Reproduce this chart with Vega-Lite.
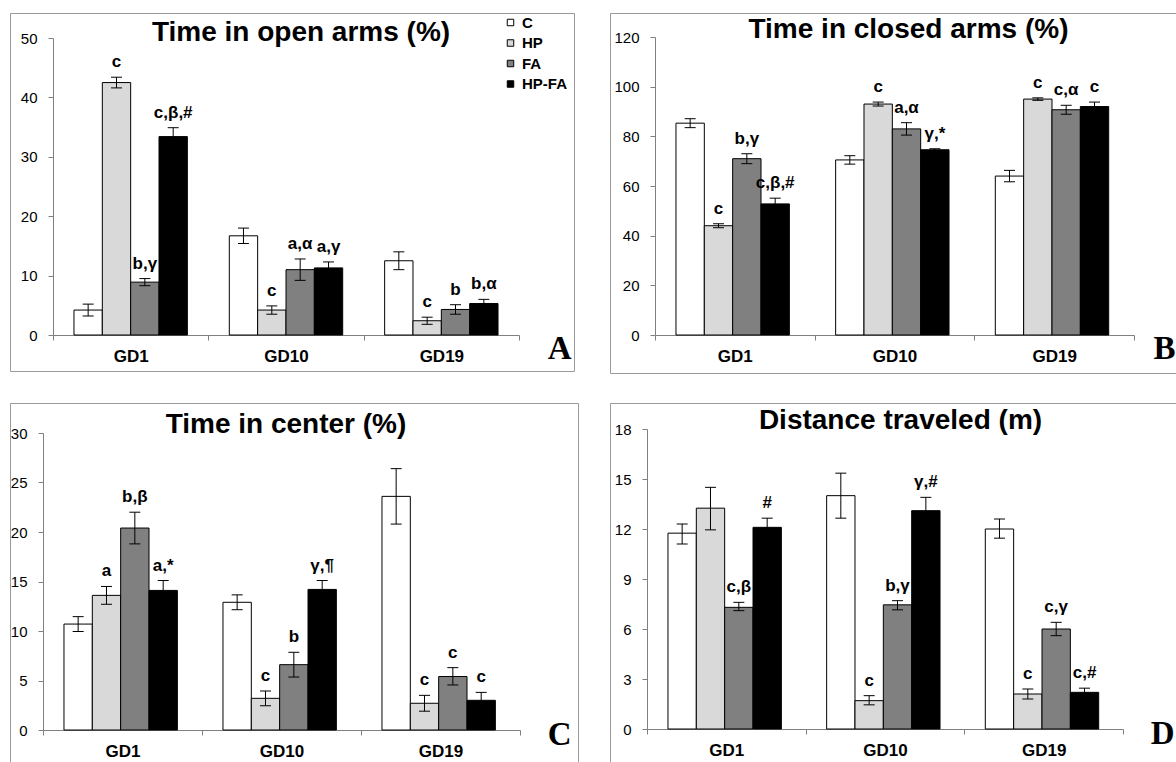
{
  "$schema": "https://vega.github.io/schema/vega-lite/v6.json",
  "padding": {"left": 9, "top": 12, "right": 0, "bottom": 0},
  "background": "white",
  "datasets": {
    "A": [
      {"group": "GD1", "trt": "C", "mean": 4.2, "lo": 3.2, "hi": 5.2, "label": ""},
      {"group": "GD1", "trt": "HP", "mean": 42.5, "lo": 41.6, "hi": 43.4, "label": "c"},
      {"group": "GD1", "trt": "FA", "mean": 8.9, "lo": 8.3, "hi": 9.5, "label": "b,γ"},
      {"group": "GD1", "trt": "HP-FA", "mean": 33.4, "lo": 31.9, "hi": 34.9, "label": "c,β,#"},
      {"group": "GD10", "trt": "C", "mean": 16.7, "lo": 15.4, "hi": 18.0, "label": ""},
      {"group": "GD10", "trt": "HP", "mean": 4.2, "lo": 3.5, "hi": 4.9, "label": "c"},
      {"group": "GD10", "trt": "FA", "mean": 11.0, "lo": 9.2, "hi": 12.8, "label": "a,α"},
      {"group": "GD10", "trt": "HP-FA", "mean": 11.3, "lo": 10.3, "hi": 12.3, "label": "a,γ"},
      {"group": "GD19", "trt": "C", "mean": 12.5, "lo": 11.0, "hi": 14.0, "label": ""},
      {"group": "GD19", "trt": "HP", "mean": 2.4, "lo": 1.8, "hi": 3.0, "label": "c"},
      {"group": "GD19", "trt": "FA", "mean": 4.3, "lo": 3.5, "hi": 5.1, "label": "b"},
      {"group": "GD19", "trt": "HP-FA", "mean": 5.3, "lo": 4.6, "hi": 6.0, "label": "b,α"}
    ],
    "B": [
      {"group": "GD1", "trt": "C", "mean": 85.3, "lo": 83.5, "hi": 87.1, "label": ""},
      {"group": "GD1", "trt": "HP", "mean": 44.0, "lo": 43.2, "hi": 44.8, "label": "c"},
      {"group": "GD1", "trt": "FA", "mean": 71.0, "lo": 69.0, "hi": 73.0, "label": "b,γ"},
      {"group": "GD1", "trt": "HP-FA", "mean": 52.8, "lo": 50.5, "hi": 55.1, "label": "c,β,#"},
      {"group": "GD10", "trt": "C", "mean": 70.5, "lo": 68.8, "hi": 72.2, "label": ""},
      {"group": "GD10", "trt": "HP", "mean": 93.0, "lo": 92.2, "hi": 93.8, "label": "c"},
      {"group": "GD10", "trt": "FA", "mean": 83.0, "lo": 80.5, "hi": 85.5, "label": "a,α"},
      {"group": "GD10", "trt": "HP-FA", "mean": 74.6, "lo": 74.2, "hi": 75.0, "label": "γ,*"},
      {"group": "GD19", "trt": "C", "mean": 64.0, "lo": 61.7, "hi": 66.3, "label": ""},
      {"group": "GD19", "trt": "HP", "mean": 95.0, "lo": 94.5, "hi": 95.5, "label": "c"},
      {"group": "GD19", "trt": "FA", "mean": 90.7, "lo": 88.9, "hi": 92.5, "label": "c,α"},
      {"group": "GD19", "trt": "HP-FA", "mean": 92.0, "lo": 90.2, "hi": 93.8, "label": "c"}
    ],
    "C": [
      {"group": "GD1", "trt": "C", "mean": 10.7, "lo": 9.95, "hi": 11.45, "label": ""},
      {"group": "GD1", "trt": "HP", "mean": 13.6, "lo": 12.7, "hi": 14.5, "label": "a"},
      {"group": "GD1", "trt": "FA", "mean": 20.4, "lo": 18.8, "hi": 22.0, "label": "b,β"},
      {"group": "GD1", "trt": "HP-FA", "mean": 14.1, "lo": 13.1, "hi": 15.1, "label": "a,*"},
      {"group": "GD10", "trt": "C", "mean": 12.9, "lo": 12.15, "hi": 13.65, "label": ""},
      {"group": "GD10", "trt": "HP", "mean": 3.2, "lo": 2.45, "hi": 3.95, "label": "c"},
      {"group": "GD10", "trt": "FA", "mean": 6.6, "lo": 5.35, "hi": 7.85, "label": "b"},
      {"group": "GD10", "trt": "HP-FA", "mean": 14.2, "lo": 13.3, "hi": 15.1, "label": "γ,¶"},
      {"group": "GD19", "trt": "C", "mean": 23.6, "lo": 20.8, "hi": 26.4, "label": ""},
      {"group": "GD19", "trt": "HP", "mean": 2.7, "lo": 1.9, "hi": 3.5, "label": "c"},
      {"group": "GD19", "trt": "FA", "mean": 5.4, "lo": 4.55, "hi": 6.3, "label": "c"},
      {"group": "GD19", "trt": "HP-FA", "mean": 3.0, "lo": 2.2, "hi": 3.8, "label": "c"}
    ],
    "D": [
      {"group": "GD1", "trt": "C", "mean": 11.75, "lo": 11.1, "hi": 12.3, "label": ""},
      {"group": "GD1", "trt": "HP", "mean": 13.25, "lo": 11.95, "hi": 14.5, "label": ""},
      {"group": "GD1", "trt": "FA", "mean": 7.3, "lo": 7.1, "hi": 7.6, "label": "c,β"},
      {"group": "GD1", "trt": "HP-FA", "mean": 12.1, "lo": 11.6, "hi": 12.65, "label": "#"},
      {"group": "GD10", "trt": "C", "mean": 14.0, "lo": 12.65, "hi": 15.35, "label": ""},
      {"group": "GD10", "trt": "HP", "mean": 1.7, "lo": 1.45, "hi": 2.0, "label": "c"},
      {"group": "GD10", "trt": "FA", "mean": 7.45, "lo": 7.15, "hi": 7.7, "label": "b,γ"},
      {"group": "GD10", "trt": "HP-FA", "mean": 13.1, "lo": 12.3, "hi": 13.9, "label": "γ,#"},
      {"group": "GD19", "trt": "C", "mean": 12.0, "lo": 11.45, "hi": 12.6, "label": ""},
      {"group": "GD19", "trt": "HP", "mean": 2.1, "lo": 1.8, "hi": 2.4, "label": "c"},
      {"group": "GD19", "trt": "FA", "mean": 6.0, "lo": 5.6, "hi": 6.4, "label": "c,γ"},
      {"group": "GD19", "trt": "HP-FA", "mean": 2.2, "lo": 1.9, "hi": 2.45, "label": "c,#"}
    ]
  },
  "spacing": 28,
  "vconcat": [
    {
      "spacing": 34,
      "hconcat": [
        {
          "width": 564, "height": 358,
          "data": {"name": "A"},
          "title": {"text": "Time in open arms (%)", "offset": -34, "dx": 9},
          "encoding": {
            "x": {"field": "group", "type": "nominal", "sort": ["GD1", "GD10", "GD19"],
              "scale": {"range": [43, 509], "paddingInner": 0, "paddingOuter": 0},
              "axis": {"offset": -36, "title": "A", "titleX": 561, "titleY": 23}},
            "xOffset": {"field": "trt", "type": "nominal", "sort": ["C", "HP", "FA", "HP-FA"],
              "scale": {"paddingInner": 0, "paddingOuter": 0.74}}
          },
          "layer": [
            {"mark": {"type": "bar", "stroke": "black", "strokeWidth": 1},
              "encoding": {
                "y": {"field": "mean", "type": "quantitative", "title": null,
                  "scale": {"domain": [0, 50], "range": [322, 25], "nice": false},
                  "axis": {"values": [0, 10, 20, 30, 40, 50], "offset": -43}},
                "color": {"field": "trt", "type": "nominal", "sort": ["C", "HP", "FA", "HP-FA"],
                  "scale": {"domain": ["C", "HP", "FA", "HP-FA"], "range": ["#ffffff", "#d9d9d9", "#808080", "#000000"]},
                  "legend": {"legendX": 493, "legendY": 2, "symbolStrokeColor": "black", "symbolStrokeWidth": 1}}}},
            {"mark": {"type": "rule", "color": "black"},
              "encoding": {"y": {"field": "lo", "type": "quantitative", "title": null}, "y2": {"field": "hi"}}},
            {"mark": {"type": "tick", "color": "black", "size": 11, "thickness": 1, "opacity": 1},
              "encoding": {"y": {"field": "lo", "type": "quantitative", "title": null}}},
            {"mark": {"type": "tick", "color": "black", "size": 11, "thickness": 1, "opacity": 1},
              "encoding": {"y": {"field": "hi", "type": "quantitative", "title": null}}},
            {"mark": {"type": "text", "dy": -10, "baseline": "alphabetic", "fontSize": 17, "fontWeight": "bold", "color": "black"},
              "encoding": {"y": {"field": "hi", "type": "quantitative", "title": null}, "text": {"field": "label"}}}
          ]
        },
        {
          "width": 575, "height": 360,
          "data": {"name": "B"},
          "title": {"text": "Time in closed arms (%)", "offset": -31, "dx": 11},
          "encoding": {
            "x": {"field": "group", "type": "nominal", "sort": ["GD1", "GD10", "GD19"],
              "scale": {"range": [45, 524], "paddingInner": 0, "paddingOuter": 0},
              "axis": {"offset": -38, "title": "B", "titleX": 565, "titleY": 23}},
            "xOffset": {"field": "trt", "type": "nominal", "sort": ["C", "HP", "FA", "HP-FA"],
              "scale": {"paddingInner": 0, "paddingOuter": 0.74}}
          },
          "layer": [
            {"mark": {"type": "bar", "stroke": "black", "strokeWidth": 1},
              "encoding": {
                "y": {"field": "mean", "type": "quantitative", "title": null,
                  "scale": {"domain": [0, 120], "range": [322, 24], "nice": false},
                  "axis": {"values": [0, 20, 40, 60, 80, 100, 120], "offset": -45}},
                "color": {"field": "trt", "type": "nominal", "sort": ["C", "HP", "FA", "HP-FA"],
                  "scale": {"domain": ["C", "HP", "FA", "HP-FA"], "range": ["#ffffff", "#d9d9d9", "#808080", "#000000"]},
                  "legend": {"legendX": 497, "legendY": 2, "symbolStrokeColor": "black", "symbolStrokeWidth": 1}}}},
            {"mark": {"type": "rule", "color": "black"},
              "encoding": {"y": {"field": "lo", "type": "quantitative", "title": null}, "y2": {"field": "hi"}}},
            {"mark": {"type": "tick", "color": "black", "size": 11, "thickness": 1, "opacity": 1},
              "encoding": {"y": {"field": "lo", "type": "quantitative", "title": null}}},
            {"mark": {"type": "tick", "color": "black", "size": 11, "thickness": 1, "opacity": 1},
              "encoding": {"y": {"field": "hi", "type": "quantitative", "title": null}}},
            {"mark": {"type": "text", "dy": -10, "baseline": "alphabetic", "fontSize": 17, "fontWeight": "bold", "color": "black"},
              "encoding": {"y": {"field": "hi", "type": "quantitative", "title": null}, "text": {"field": "label"}}}
          ]
        }
      ]
    },
    {
      "spacing": 30,
      "hconcat": [
        {
          "width": 568, "height": 362,
          "data": {"name": "C"},
          "title": {"text": "Time in center (%)", "offset": -36, "dx": -8},
          "encoding": {
            "x": {"field": "group", "type": "nominal", "sort": ["GD1", "GD10", "GD19"],
              "scale": {"range": [33, 510], "paddingInner": 0, "paddingOuter": 0},
              "axis": {"offset": -35, "title": "C", "titleX": 561, "titleY": 14}},
            "xOffset": {"field": "trt", "type": "nominal", "sort": ["C", "HP", "FA", "HP-FA"],
              "scale": {"paddingInner": 0, "paddingOuter": 0.74}}
          },
          "layer": [
            {"mark": {"type": "bar", "stroke": "black", "strokeWidth": 1},
              "encoding": {
                "y": {"field": "mean", "type": "quantitative", "title": null,
                  "scale": {"domain": [0, 30], "range": [327, 30], "nice": false},
                  "axis": {"values": [0, 5, 10, 15, 20, 25, 30], "offset": -33}},
                "color": {"field": "trt", "type": "nominal", "sort": ["C", "HP", "FA", "HP-FA"],
                  "scale": {"domain": ["C", "HP", "FA", "HP-FA"], "range": ["#ffffff", "#d9d9d9", "#808080", "#000000"]},
                  "legend": {"legendX": 497, "legendY": 2, "symbolStrokeColor": "black", "symbolStrokeWidth": 1}}}},
            {"mark": {"type": "rule", "color": "black"},
              "encoding": {"y": {"field": "lo", "type": "quantitative", "title": null}, "y2": {"field": "hi"}}},
            {"mark": {"type": "tick", "color": "black", "size": 11, "thickness": 1, "opacity": 1},
              "encoding": {"y": {"field": "lo", "type": "quantitative", "title": null}}},
            {"mark": {"type": "tick", "color": "black", "size": 11, "thickness": 1, "opacity": 1},
              "encoding": {"y": {"field": "hi", "type": "quantitative", "title": null}}},
            {"mark": {"type": "text", "dy": -10, "baseline": "alphabetic", "fontSize": 17, "fontWeight": "bold", "color": "black"},
              "encoding": {"y": {"field": "hi", "type": "quantitative", "title": null}, "text": {"field": "label"}}}
          ]
        },
        {
          "width": 575, "height": 362,
          "data": {"name": "D"},
          "title": {"text": "Distance traveled (m)", "offset": -32, "dx": 3},
          "encoding": {
            "x": {"field": "group", "type": "nominal", "sort": ["GD1", "GD10", "GD19"],
              "scale": {"range": [37, 513], "paddingInner": 0, "paddingOuter": 0},
              "axis": {"offset": -36, "title": "D", "titleX": 564, "titleY": 14}},
            "xOffset": {"field": "trt", "type": "nominal", "sort": ["C", "HP", "FA", "HP-FA"],
              "scale": {"paddingInner": 0, "paddingOuter": 0.74}}
          },
          "layer": [
            {"mark": {"type": "bar", "stroke": "black", "strokeWidth": 1},
              "encoding": {
                "y": {"field": "mean", "type": "quantitative", "title": null,
                  "scale": {"domain": [0, 18], "range": [326, 26], "nice": false},
                  "axis": {"values": [0, 3, 6, 9, 12, 15, 18], "offset": -37}},
                "color": {"field": "trt", "type": "nominal", "sort": ["C", "HP", "FA", "HP-FA"],
                  "scale": {"domain": ["C", "HP", "FA", "HP-FA"], "range": ["#ffffff", "#d9d9d9", "#808080", "#000000"]},
                  "legend": {"legendX": 504, "legendY": 2, "symbolStrokeColor": "black", "symbolStrokeWidth": 1}}}},
            {"mark": {"type": "rule", "color": "black"},
              "encoding": {"y": {"field": "lo", "type": "quantitative", "title": null}, "y2": {"field": "hi"}}},
            {"mark": {"type": "tick", "color": "black", "size": 11, "thickness": 1, "opacity": 1},
              "encoding": {"y": {"field": "lo", "type": "quantitative", "title": null}}},
            {"mark": {"type": "tick", "color": "black", "size": 11, "thickness": 1, "opacity": 1},
              "encoding": {"y": {"field": "hi", "type": "quantitative", "title": null}}},
            {"mark": {"type": "text", "dy": -10, "baseline": "alphabetic", "fontSize": 17, "fontWeight": "bold", "color": "black"},
              "encoding": {"y": {"field": "hi", "type": "quantitative", "title": null}, "text": {"field": "label"}}}
          ]
        }
      ]
    }
  ],
  "config": {
    "font": "Liberation Sans",
    "view": {"stroke": "#9a9a9a", "strokeWidth": 1},
    "axis": {"domainColor": "#808080", "tickColor": "#808080", "labelColor": "black", "titleColor": "black",
      "labelFont": "Liberation Sans", "grid": false, "tickSize": 5},
    "axisX": {"labelFontSize": 17, "labelFontWeight": "bold", "labelAngle": 0, "labelPadding": 8, "tickBand": "extent",
      "titleFont": "Liberation Serif", "titleFontSize": 33, "titleFontWeight": "bold", "titleAlign": "right",
      "titleBaseline": "alphabetic", "titleAnchor": "end"},
    "axisY": {"labelFontSize": 15, "labelPadding": 11},
    "legend": {"orient": "none", "title": null, "symbolType": "square", "symbolSize": 42,
      "labelFontSize": 15, "labelFontWeight": "bold", "labelFont": "Liberation Sans", "labelColor": "black",
      "rowPadding": 4.5, "labelOffset": 4, "padding": 0},
    "title": {"font": "Liberation Sans", "fontSize": 28, "fontWeight": "bold", "color": "black",
      "anchor": "middle", "frame": "group", "baseline": "alphabetic"}
  }
}
